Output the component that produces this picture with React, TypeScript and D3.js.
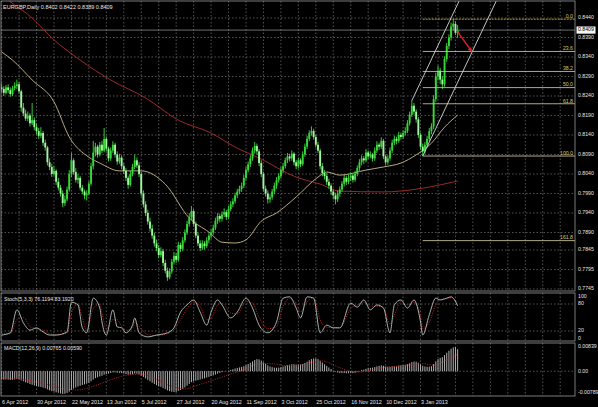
import React from "react";
import * as d3 from "d3";

const W = 598;
const H = 407;

const SYMBOL = "EURGBP,Daily";
const LAST_QUOTE = "0.8402 0.8422 0.8389 0.8409";
const LAST_CLOSE = 0.8409;
const STOCH_TITLE = "Stoch(5,3,3) 76.1194 83.1920";
const MACD_TITLE = "MACD(12,26,9) 0.00765 0.00590";

// Daily bars [open, high, low, close] in 1/10000 units
const CANDLES: number[][] = [
  [8262,8272,8250,8258],[8258,8265,8240,8248],[8248,8268,8244,8262],[8262,8270,8248,8255],
  [8255,8262,8238,8245],[8245,8266,8240,8260],[8260,8275,8254,8266],[8266,8282,8258,8270],
  [8270,8276,8246,8252],[8252,8256,8200,8210],[8210,8222,8188,8195],[8195,8205,8176,8182],
  [8182,8200,8175,8190],[8190,8196,8162,8170],[8170,8222,8165,8178],[8178,8185,8152,8160],
  [8160,8170,8142,8150],[8150,8158,8130,8138],[8138,8160,8132,8145],[8145,8150,8112,8120],
  [8120,8128,8100,8108],[8108,8112,8062,8070],[8070,8080,8050,8058],[8058,8066,8032,8040],
  [8040,8060,8035,8048],[8048,8052,8012,8020],[8020,8030,7998,8005],[8005,8012,7982,7990],
  [7990,7998,7955,7965],[7965,7985,7958,7975],[7975,8008,7970,8000],[8000,8050,7995,8040],
  [8040,8094,8032,8075],[8075,8080,8038,8045],[8045,8055,8018,8025],[8025,8040,8015,8030],
  [8030,8035,7998,8005],[8005,8012,7988,7995],[7995,8000,7975,7985],[7985,7998,7972,7990],
  [7990,8022,7985,8015],[8015,8068,8010,8060],[8060,8125,8052,8095],[8095,8120,8085,8110],
  [8110,8115,8082,8090],[8090,8122,8085,8115],[8115,8125,8094,8100],[8100,8158,8096,8130],
  [8130,8136,8098,8105],[8105,8110,8072,8080],[8080,8108,8074,8100],[8100,8124,8094,8115],
  [8115,8120,8082,8090],[8090,8098,8064,8072],[8072,8092,8066,8082],[8082,8088,8052,8060],
  [8060,8068,8040,8048],[8048,8055,8022,8030],[8030,8036,8002,8012],[8012,8048,8008,8040],
  [8040,8066,8034,8058],[8058,8090,8052,8075],[8075,8082,8055,8062],[8062,8070,8032,8040],
  [8040,8046,7982,7990],[7990,7998,7954,7962],[7962,7970,7932,7940],[7940,7948,7910,7918],
  [7918,7928,7892,7900],[7900,7910,7874,7882],[7882,7890,7854,7862],[7862,7872,7842,7850],
  [7850,7858,7824,7832],[7832,7852,7826,7842],[7842,7848,7804,7812],[7812,7820,7785,7792],
  [7792,7800,7766,7775],[7775,7798,7770,7790],[7790,7822,7784,7815],[7815,7840,7808,7830],
  [7830,7838,7812,7820],[7820,7866,7815,7858],[7858,7864,7840,7848],[7848,7878,7842,7870],
  [7870,7898,7864,7890],[7890,7920,7884,7912],[7912,7940,7905,7930],[7930,7958,7922,7945],
  [7945,7950,7905,7912],[7912,7918,7875,7882],[7882,7890,7855,7862],[7862,7870,7842,7850],
  [7850,7870,7845,7862],[7862,7868,7846,7855],[7855,7878,7850,7870],[7870,7888,7862,7882],
  [7882,7898,7874,7890],[7890,7910,7884,7902],[7902,7928,7896,7920],[7920,7940,7912,7932],
  [7932,7938,7916,7925],[7925,7944,7918,7936],[7936,7952,7930,7942],[7942,7948,7922,7930],
  [7930,7958,7925,7950],[7950,7970,7944,7962],[7962,7978,7955,7970],[7970,7992,7964,7985],
  [7985,8002,7978,7995],[7995,8010,7988,8002],[8002,8018,7994,8010],[8010,8038,8004,8030],
  [8030,8058,8024,8050],[8050,8072,8044,8065],[8065,8088,8058,8080],[8080,8108,8074,8100],
  [8100,8122,8092,8112],[8112,8118,8090,8098],[8098,8104,8060,8068],[8068,8075,8032,8040],
  [8040,8046,7995,8002],[8002,8010,7982,7990],[7990,7998,7964,7975],[7975,7988,7966,7980],
  [7980,8002,7974,7995],[7995,8018,7988,8010],[8010,8032,8002,8025],[8025,8042,8018,8035],
  [8035,8058,8028,8050],[8050,8068,8042,8060],[8060,8082,8054,8075],[8075,8094,8068,8085],
  [8085,8092,8072,8080],[8080,8100,8074,8092],[8092,8096,8062,8070],[8070,8076,8052,8060],
  [8060,8082,8054,8075],[8075,8080,8058,8065],[8065,8098,8060,8090],[8090,8118,8084,8110],
  [8110,8138,8104,8130],[8130,8152,8124,8145],[8145,8162,8138,8150],[8150,8156,8128,8135],
  [8135,8140,8108,8115],[8115,8122,8094,8100],[8100,8105,8052,8060],[8060,8068,8034,8042],
  [8042,8050,8026,8035],[8035,8042,8012,8020],[8020,8028,8002,8010],[8010,8016,7986,7995],
  [7995,8002,7975,7985],[7985,7992,7962,7975],[7975,7998,7968,7990],[7990,8008,7982,8000],
  [8000,8022,7994,8015],[8015,8038,8008,8030],[8030,8036,8012,8020],[8020,8038,8014,8030],
  [8030,8044,8022,8036],[8036,8042,8018,8025],[8025,8048,8020,8040],[8040,8062,8034,8055],
  [8055,8078,8048,8070],[8070,8088,8062,8080],[8080,8086,8066,8075],[8075,8104,8070,8095],
  [8095,8100,8078,8085],[8085,8098,8080,8090],[8090,8094,8072,8080],[8080,8108,8074,8100],
  [8100,8124,8094,8115],[8115,8120,8102,8110],[8110,8134,8104,8125],[8125,8130,8078,8085],
  [8085,8090,8062,8070],[8070,8088,8064,8080],[8080,8108,8074,8100],[8100,8128,8094,8120],
  [8120,8138,8114,8130],[8130,8136,8116,8125],[8125,8148,8120,8140],[8140,8146,8128,8135],
  [8135,8152,8130,8145],[8145,8160,8138,8150],[8150,8178,8145,8170],[8170,8200,8164,8192],
  [8192,8228,8186,8215],[8215,8222,8192,8200],[8200,8206,8172,8180],[8180,8186,8132,8140],
  [8140,8146,8102,8110],[8110,8118,8086,8098],[8098,8122,8092,8115],[8115,8138,8108,8130],
  [8130,8158,8124,8150],[8150,8170,8142,8162],[8162,8242,8155,8232],[8232,8300,8225,8290],
  [8290,8318,8280,8305],[8305,8312,8270,8282],[8282,8290,8258,8270],[8270,8342,8264,8335],
  [8335,8376,8328,8368],[8368,8398,8360,8390],[8390,8428,8382,8418],[8418,8437,8408,8425],
  [8425,8432,8396,8402],[8402,8422,8389,8409],
];

// Moving averages as [bar, price in 1/10000]
const MA_FAST: number[][] = [
  [0,8353],[5,8332],[14,8281],[24,8225],[31,8135],[40,8083],[45,8068],[54,8048],[64,8048],
  [75,8014],[86,7927],[95,7891],[101,7865],[107,7863],[112,7871],[119,7919],[126,7940],
  [135,7981],[145,8032],[149,8045],[155,8037],[167,8050],[175,8058],[183,8068],[190,8089],
  [197,8119],[203,8160],[209,8191],
];
const MA_SLOW: number[][] = [
  [0,8500],[3,8486],[14,8440],[24,8384],[36,8332],[50,8281],[66,8235],[81,8178],[96,8145],
  [107,8109],[118,8081],[135,8032],[146,8014],[155,7996],[175,7994],[190,8001],[201,8012],
  [209,8022],
];

// Stochastic %K and signal as [bar, value]
const STOCH_MAIN: number[][] = [
  [0,11],[4,16],[7,67],[10,38],[13,22],[16,27],[19,18],[22,11],[25,11],[30,18],[32,84],
  [35,78],[37,27],[39,16],[42,93],[45,71],[46,40],[48,11],[51,67],[53,29],[55,27],[57,16],
  [60,33],[61,49],[63,16],[67,7],[71,11],[76,16],[79,27],[82,62],[85,78],[88,89],[91,62],
  [94,33],[96,62],[99,89],[101,78],[105,49],[108,62],[112,93],[115,71],[118,33],[122,16],
  [126,40],[129,93],[132,96],[135,71],[137,49],[140,96],[143,93],[146,16],[149,33],[152,27],
  [155,27],[160,82],[163,73],[166,89],[169,67],[172,78],[175,71],[178,16],[180,78],[183,89],
  [186,71],[189,89],[192,40],[193,11],[196,56],[199,93],[201,89],[204,93],[206,96],[209,76],
];
const STOCH_SIGNAL: number[][] = [
  [0,14],[4,14],[7,45],[10,50],[13,30],[16,25],[19,22],[22,14],[25,12],[30,15],[32,60],
  [35,80],[37,50],[39,22],[42,70],[45,80],[46,60],[48,25],[51,45],[53,45],[55,30],[57,22],
  [60,26],[61,40],[63,30],[67,12],[71,10],[76,14],[79,22],[82,45],[85,70],[88,84],[91,75],
  [94,45],[96,48],[99,78],[101,82],[105,60],[108,58],[112,85],[115,82],[118,50],[122,25],
  [126,30],[129,75],[132,92],[135,82],[137,62],[140,85],[143,94],[146,45],[149,28],[152,28],
  [155,27],[160,70],[163,78],[166,84],[169,75],[172,75],[175,73],[178,35],[180,55],[183,85],
  [186,78],[189,84],[192,55],[193,25],[196,40],[199,78],[201,90],[204,92],[206,94],[209,83],
];

// MACD histogram per bar, in 1/100000 units
const MACD_HIST: number[] = [
  -280,-290,-285,-290,-300,-295,-285,-270,-275,-320,-350,-385,-410,-445,-470,-495,
  -515,-535,-545,-570,-590,-630,-660,-690,-705,-730,-750,-770,-789,-780,-755,-710,
  -650,-600,-565,-530,-505,-480,-455,-430,-400,-350,-290,-240,-210,-180,-160,-120,
  -100,-85,-60,-40,-40,-50,-55,-65,-80,-100,-120,-115,-100,-80,-85,-105,
  -150,-200,-250,-300,-350,-400,-445,-485,-520,-540,-580,-620,-665,-690,-710,-720,
  -715,-680,-650,-610,-560,-500,-440,-380,-350,-330,-310,-290,-265,-245,-220,-195,
  -170,-145,-115,-85,-60,-35,-15,0,20,45,70,95,115,130,150,175,
  210,250,290,340,390,420,410,370,310,255,205,165,140,125,120,125,
  140,160,185,210,225,245,240,230,235,230,250,285,330,380,420,440,
  440,420,360,300,240,185,130,75,25,-20,-45,-60,-65,-65,-70,-70,
  -65,-65,-50,-25,5,35,55,85,100,115,125,145,170,185,205,190,
  165,150,150,165,180,185,200,205,215,225,245,275,315,335,330,295,
  240,190,165,155,160,175,250,340,420,460,490,560,640,710,780,825,
  839,765,
];
const MACD_SIGNAL: number[][] = [
  [0,-230],[10,-290],[20,-440],[28,-600],[35,-650],[42,-520],[50,-300],[58,-130],[64,-105],
  [70,-250],[78,-520],[84,-610],[90,-480],[98,-280],[105,-100],[112,80],[118,270],[124,260],
  [130,200],[136,215],[142,300],[147,360],[153,180],[158,40],[164,-30],[170,50],[176,140],
  [182,170],[188,230],[193,260],[198,210],[203,350],[209,590],
];

const PRICE_TICKS = [0.844, 0.839, 0.834, 0.829, 0.824, 0.819, 0.814, 0.809, 0.804, 0.799, 0.794, 0.789, 0.7845, 0.7795, 0.7745];
const STOCH_TICKS = [100, 80, 20, 0];
const STOCH_LEVELS = [80, 20];
const MACD_TICKS = [0.00839, 0, -0.00789];

const DATE_LABELS = [
  "6 Apr 2012", "30 Apr 2012", "22 May 2012", "13 Jun 2012", "5 Jul 2012", "27 Jul 2012",
  "20 Aug 2012", "11 Sep 2012", "3 Oct 2012", "25 Oct 2012", "16 Nov 2012", "10 Dec 2012", "3 Jan 2013",
];
const LABEL_STEP = 16;
const GRID_STEP = 8;

// Fibonacci retracement from the swing low to the swing high
const FIB_RATIOS = [0, 23.6, 38.2, 50, 61.8, 100, 161.8];
const FIB_HIGH = 0.8437;
const FIB_LOW = 0.8086;
const FIB_START_BAR = 193;

// Equidistant channel: two parallel rays [bar, price], rising per bar
const CHANNEL_UPPER = [188, 0.8228];
const CHANNEL_LOWER = [193, 0.8086];
const CHANNEL_SLOPE = 0.00118;

// Red arrow [bar, price] from -> to
const ARROW_FROM = [208.7, 0.8407];
const ARROW_TO = [215.6, 0.8353];

const FONT = "'Liberation Sans', Arial, sans-serif";
const TEXT = "#e6e6e6";
const GRID = "#6a6a6a";
const BORDER = "#9a9a9a";

export default function App() {
  const plotLeft = 1;
  const plotRight = 575;
  const main = { top: 1, bottom: 291 };
  const stoch = { top: 293, bottom: 341 };
  const macd = { top: 343, bottom: 396 };

  const x = d3.scaleLinear().domain([0, 262]).range([1.6, 1.6 + 2.182 * 262]);
  const yMain = d3.scaleLinear().domain([0.77425, 0.8481]).range([290, 2]);
  const yStoch = d3.scaleLinear().domain([0, 100]).range([340, 295]);
  const yMacd = d3.scaleLinear().domain([-0.00789, 0.00839]).range([394, 347]);

  const maLine = d3
    .line<number[]>()
    .x((d) => x(d[0]))
    .y((d) => yMain(d[1] / 10000))
    .curve(d3.curveMonotoneX);
  const stochLine = d3
    .line<number[]>()
    .x((d) => x(d[0]))
    .y((d) => yStoch(d[1]))
    .curve(d3.curveMonotoneX);
  const macdLine = d3
    .line<number[]>()
    .x((d) => x(d[0]))
    .y((d) => yMacd(d[1] / 100000))
    .curve(d3.curveMonotoneX);

  const gridBars = d3.range(0, 263, GRID_STEP).filter((b) => x(b) < plotRight);
  const panels = [main, stoch, macd];

  const fibRange = FIB_HIGH - FIB_LOW;
  const chanEnd = 262;
  const chan = (a: number[]) =>
    `M${x(a[0])},${yMain(a[1])}L${x(chanEnd)},${yMain(a[1] + CHANNEL_SLOPE * (chanEnd - a[0]))}`;

  const ax0 = x(ARROW_FROM[0]);
  const ay0 = yMain(ARROW_FROM[1]);
  const ax1 = x(ARROW_TO[0]);
  const ay1 = yMain(ARROW_TO[1]);
  const ang = Math.atan2(ay1 - ay0, ax1 - ax0);
  const head = 5;
  const headPts = [
    [ax1, ay1],
    [ax1 - head * Math.cos(ang - 0.45), ay1 - head * Math.sin(ang - 0.45)],
    [ax1 - head * Math.cos(ang + 0.45), ay1 - head * Math.sin(ang + 0.45)],
  ]
    .map((p) => p.join(","))
    .join(" ");

  return (
    <div style={{ position: "fixed", left: 0, top: 0, width: W, height: H, background: "#000" }}>
      <svg width={W} height={H} style={{ display: "block" }} fontFamily={FONT}>
        <defs>
          <clipPath id="mainClip">
            <rect x={plotLeft} y={main.top} width={plotRight - plotLeft} height={main.bottom - main.top} />
          </clipPath>
        </defs>
        <rect width={W} height={H} fill="#000" />

        {/* grids */}
        {panels.map((p, pi) => (
          <g key={pi}>
            {gridBars.map((b) => (
              <line key={b} x1={x(b)} x2={x(b)} y1={p.top} y2={p.bottom} stroke={GRID} strokeWidth={0.8} strokeDasharray="1.5,2" />
            ))}
          </g>
        ))}
        {PRICE_TICKS.map((v) => (
          <line key={v} x1={plotLeft} x2={plotRight} y1={yMain(v)} y2={yMain(v)} stroke={GRID} strokeWidth={0.8} strokeDasharray="1.5,2" />
        ))}
        {STOCH_LEVELS.map((v) => (
          <line key={v} x1={plotLeft} x2={plotRight} y1={yStoch(v)} y2={yStoch(v)} stroke={GRID} strokeWidth={0.8} strokeDasharray="1.5,2" />
        ))}
        <line x1={plotLeft} x2={plotRight} y1={yMacd(0)} y2={yMacd(0)} stroke={GRID} strokeWidth={0.8} strokeDasharray="1.5,2" />

        {/* main panel */}
        <g clipPath="url(#mainClip)">
          <line x1={plotLeft} x2={plotRight} y1={yMain(LAST_CLOSE)} y2={yMain(LAST_CLOSE)} stroke="#8c8c8c" strokeWidth={0.8} />
          <path d={maLine(MA_SLOW) || ""} fill="none" stroke="#9a2a26" strokeWidth={1} />
          <path d={maLine(MA_FAST) || ""} fill="none" stroke="#cdbb92" strokeWidth={0.9} />
          {CANDLES.map((c, i) => {
            const [o, h, l, cl] = c.map((v) => v / 10000);
            const cx = x(i);
            const top = yMain(Math.max(o, cl));
            const bh = Math.max(0.8, Math.abs(yMain(o) - yMain(cl)));
            const bull = cl >= o;
            return (
              <g key={i}>
                <line x1={cx} x2={cx} y1={yMain(h)} y2={yMain(l)} stroke="#3fdc3f" strokeWidth={0.9} />
                <rect x={cx - 0.95} y={top} width={1.9} height={bh} fill={bull ? "#36d836" : "#a4f2a4"} />
              </g>
            );
          })}
          {FIB_RATIOS.map((r) => {
            const py = yMain(FIB_HIGH - (r / 100) * fibRange);
            return (
              <g key={r}>
                <line x1={x(FIB_START_BAR)} x2={plotRight} y1={py} y2={py} stroke={r === 0 ? "#c8b840" : "#c4bc94"} strokeWidth={0.9} strokeDasharray={r === 0 ? "2,1" : undefined} />
                <text x={plotRight - 2} y={py - 1.2} fontSize={5.2} fill="#d8c668" textAnchor="end">
                  {r.toFixed(1)}
                </text>
              </g>
            );
          })}
          <path d={chan(CHANNEL_UPPER)} stroke="#d8d8d8" strokeWidth={0.9} fill="none" />
          <path d={chan(CHANNEL_LOWER)} stroke="#d8d8d8" strokeWidth={0.9} fill="none" />
          <line x1={ax0} y1={ay0} x2={ax1} y2={ay1} stroke="#e02222" strokeWidth={1.4} />
          <polygon points={headPts} fill="#e02222" />
        </g>

        {/* stochastic */}
        <path d={stochLine(STOCH_SIGNAL) || ""} fill="none" stroke="#b02626" strokeWidth={0.9} strokeDasharray="1.2,1.2" />
        <path d={stochLine(STOCH_MAIN) || ""} fill="none" stroke="#b4c4be" strokeWidth={0.9} />

        {/* MACD */}
        {MACD_HIST.map((v, i) => (
          <line key={i} x1={x(i)} x2={x(i)} y1={yMacd(0)} y2={yMacd(v / 100000)} stroke="#c4c4c4" strokeWidth={0.9} />
        ))}
        <path d={macdLine(MACD_SIGNAL) || ""} fill="none" stroke="#b02626" strokeWidth={0.9} strokeDasharray="1.2,1.2" />

        {/* panel frames */}
        {panels.map((p, pi) => (
          <rect key={pi} x={plotLeft} y={p.top} width={plotRight - plotLeft} height={p.bottom - p.top} fill="none" stroke={BORDER} strokeWidth={0.8} />
        ))}

        {/* titles */}
        <text x={3} y={9} fontSize={5.5} fill={TEXT}>
          {SYMBOL + "  " + LAST_QUOTE}
        </text>
        <text x={4} y={301} fontSize={5.3} fill={TEXT}>
          {STOCH_TITLE}
        </text>
        <text x={4} y={350} fontSize={5.3} fill={TEXT}>
          {MACD_TITLE}
        </text>

        {/* right axis */}
        {PRICE_TICKS.map((v) => (
          <text key={v} x={578} y={yMain(v)} fontSize={5.2} fill={TEXT} dominantBaseline="middle">
            {v.toFixed(4)}
          </text>
        ))}
        <rect x={576.5} y={yMain(LAST_CLOSE) - 3.6} width={19} height={7.2} fill="#f4f4f4" />
        <text x={578} y={yMain(LAST_CLOSE)} fontSize={5.2} fill="#000" dominantBaseline="middle">
          {LAST_CLOSE.toFixed(4)}
        </text>
        {STOCH_TICKS.map((v) => (
          <text key={v} x={578} y={Math.min(Math.max(yStoch(v), 297), 338.5)} fontSize={5.2} fill={TEXT} dominantBaseline="middle">
            {v}
          </text>
        ))}
        {MACD_TICKS.map((v) => (
          <text key={v} x={578} y={Math.min(Math.max(yMacd(v), 346.5), 393)} fontSize={5.2} fill={TEXT} dominantBaseline="middle">
            {v === 0 ? "0.00" : v.toFixed(5)}
          </text>
        ))}

        {/* time axis */}
        {DATE_LABELS.map((lab, k) => (
          <text key={lab} x={x(k * LABEL_STEP) + 0.5} y={404} fontSize={5.4} fill={TEXT}>
            {lab}
          </text>
        ))}
      </svg>
    </div>
  );
}
